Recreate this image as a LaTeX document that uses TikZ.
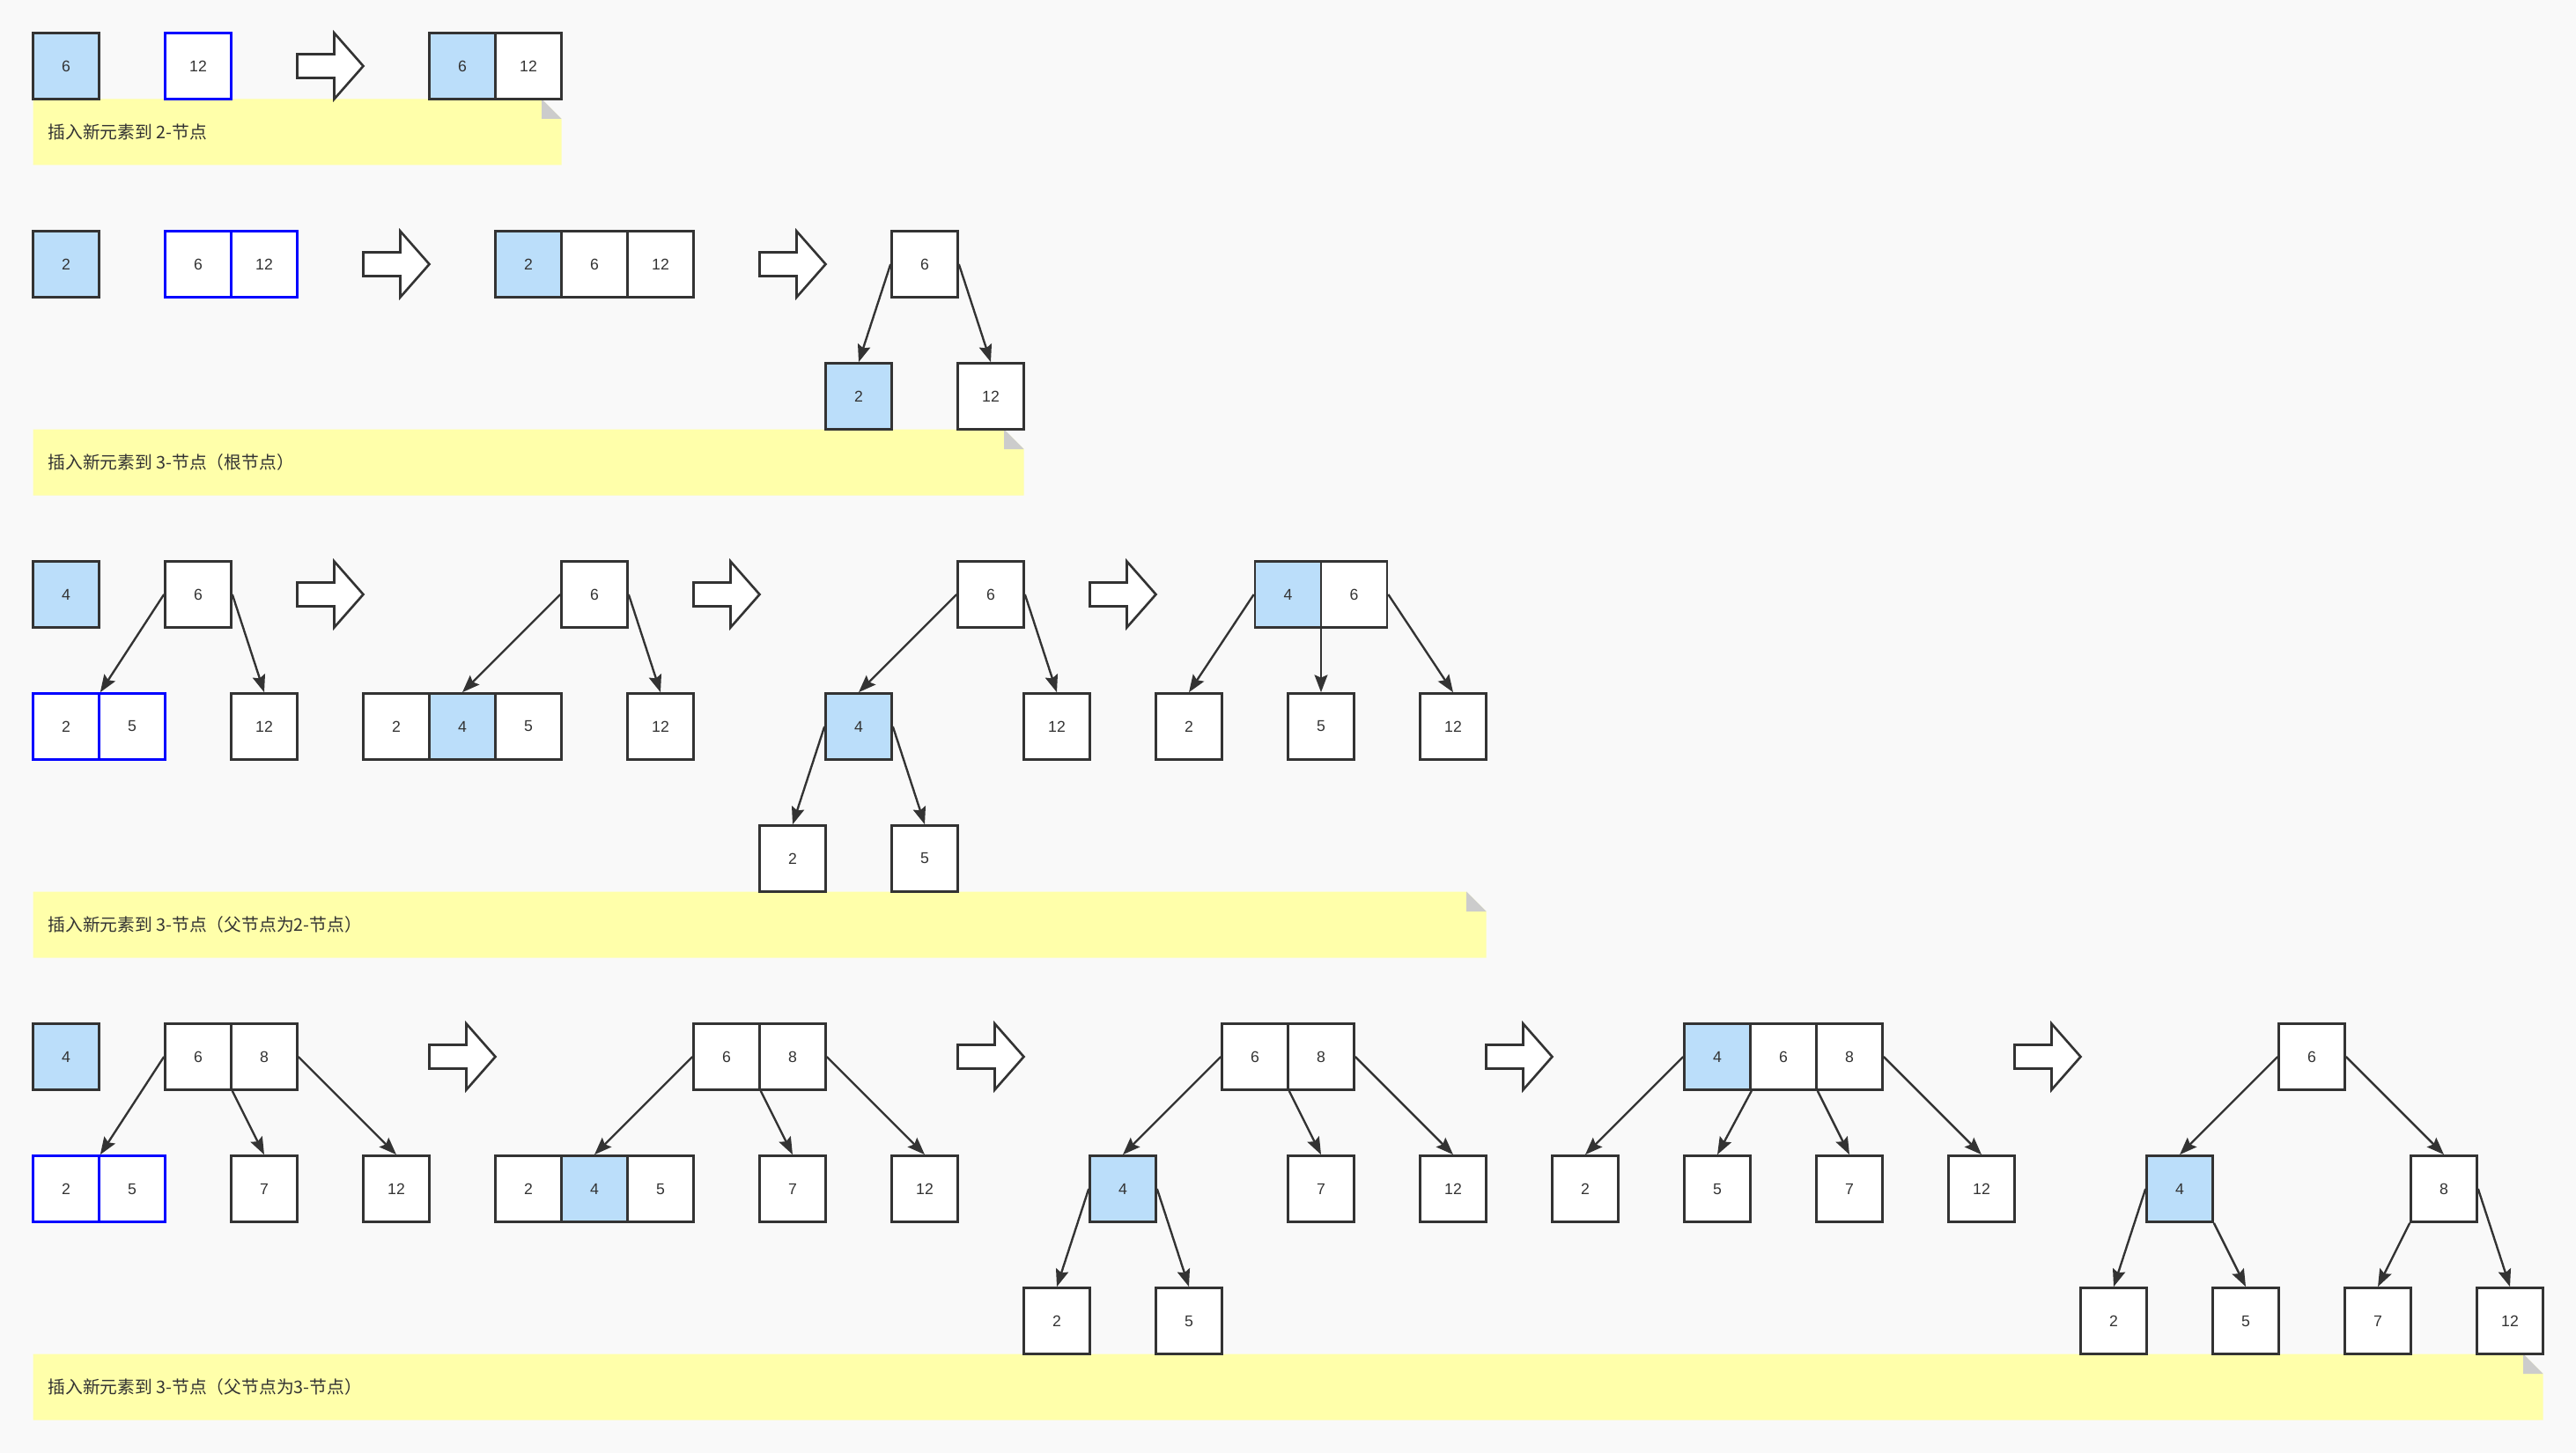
\documentclass[tikz,border=0pt]{standalone}
\usepackage{fontspec}
\setmainfont{Liberation Sans}
\newfontfamily\cjk{Noto Sans CJK SC}
\usetikzlibrary{arrows.meta}
\definecolor{ink}{HTML}{333333}
\definecolor{paper}{HTML}{F9F9F9}
\definecolor{newkey}{HTML}{BBDEFA}
\definecolor{notefill}{HTML}{FFFFAA}
\definecolor{notefold}{HTML}{CCCCCC}

\begin{document}
\begin{tikzpicture}[x=1cm, y=-1cm, auto, font=\fontsize{6.7}{8}\selectfont]
    \tikzstyle{tree key} = [rectangle,draw=ink,fill=white,line width=1pt,inner sep=0pt,minimum size=1cm,text=ink]
    \tikzstyle{tree key new} = [tree key, fill=newkey]
    \tikzstyle{tree key open} = [tree key, draw=blue]
    \tikzstyle{tree edge} = [draw=ink, line width=0.9pt, -{Stealth[length=7.5pt, width=5.6pt, inset=1.2pt]}]
    \tikzstyle{step arrow} = [draw=ink, fill=white, line width=1pt]
    \tikzstyle{note text} = [anchor=west, inner sep=0pt, text=ink, font=\cjk\fontsize{7.5}{9}\selectfont]
\fill[paper] (0,0) rectangle (39,22);
\useasboundingbox (0,0) rectangle (39,22);
% notes
\foreach \top/\right/\name/\caption in {1.5/8.5/n1/插入新元素到 2-节点,
    6.5/15.5/n2/插入新元素到 3-节点（根节点）,
    13.5/22.5/n3/插入新元素到 3-节点（父节点为2-节点）,
    20.5/38.5/n4/插入新元素到 3-节点（父节点为3-节点）} {
  \fill[notefill] (0.5,\top) -- (\right-0.3,\top) -- (\right,\top+0.3) -- (\right,\top+1) -- (0.5,\top+1) -- cycle;
  \fill[notefold] (\right-0.3,\top) -- (\right-0.3,\top+0.3) -- (\right,\top+0.3) -- cycle;
  \node[note text] (\name) at (0.72,\top+0.5) {\caption};
}
% steps
\foreach \x/\y in {5/1, 6/4, 12/4, 5/9, 11/9, 17/9, 7/16, 15/16, 23/16, 31/16}
  \draw[step arrow, shift={(\x,\y)}] (-0.5,-0.18) -- (0.06,-0.18) -- (0.06,-0.5) -- (0.5,0)
      -- (0.06,0.5) -- (0.06,0.18) -- (-0.5,0.18) -- cycle;
% row 1: 2-node
\node[tree key new] (a1) at (1, 1) {6};
\node[tree key open] (a2) at (3, 1) {12};
\node[tree key new] (a3) at (7, 1) {6};
\node[tree key] (a4) at (8, 1) {12};
% row 2: 3-node, root
\node[tree key new] (b1) at (1, 4) {2};
\node[tree key open] (b2) at (3, 4) {6};
\node[tree key open] (b3) at (4, 4) {12};
\node[tree key new] (b4) at (8, 4) {2};
\node[tree key] (b5) at (9, 4) {6};
\node[tree key] (b6) at (10, 4) {12};
\node[tree key] (b7) at (14, 4) {6};
\node[tree key new] (b8) at (13, 6) {2};
\node[tree key] (b9) at (15, 6) {12};
\draw[tree edge] (b7.west) to (b8.north);
\draw[tree edge] (b7.east) to (b9.north);
% row 3: 3-node, parent is 2-node
\node[tree key new] (c1) at (1, 9) {4};
\node[tree key] (c2) at (3, 9) {6};
\node[tree key open] (c3) at (1, 11) {2};
\node[tree key open] (c4) at (2, 11) {5};
\node[tree key] (c5) at (4, 11) {12};
\draw[tree edge] (c2.west) to (c3.north east);
\draw[tree edge] (c2.east) to (c5.north);
\node[tree key] (c6) at (9, 9) {6};
\node[tree key] (c7) at (6, 11) {2};
\node[tree key new] (c8) at (7, 11) {4};
\node[tree key] (c9) at (8, 11) {5};
\node[tree key] (c10) at (10, 11) {12};
\draw[tree edge] (c6.west) to (c8.north);
\draw[tree edge] (c6.east) to (c10.north);
\node[tree key] (c11) at (15, 9) {6};
\node[tree key new] (c12) at (13, 11) {4};
\node[tree key] (c13) at (16, 11) {12};
\node[tree key] (c14) at (12, 13) {2};
\node[tree key] (c15) at (14, 13) {5};
\draw[tree edge] (c11.west) to (c12.north);
\draw[tree edge] (c11.east) to (c13.north);
\draw[tree edge] (c12.west) to (c14.north);
\draw[tree edge] (c12.east) to (c15.north);
\node[tree key new] (c16) at (19.5, 9) {4};
\node[tree key] (c17) at (20.5, 9) {6};
\node[tree key] (c18) at (18, 11) {2};
\node[tree key] (c19) at (20, 11) {5};
\node[tree key] (c20) at (22, 11) {12};
\draw[tree edge] (c16.west) to (c18.north);
\draw[tree edge] (c16.south -| c19.north) to (c19.north);
\draw[tree edge] (c17.east) to (c20.north);
% row 4: 3-node, parent is 3-node
\node[tree key new] (d1) at (1, 16) {4};
\node[tree key] (d2) at (3, 16) {6};
\node[tree key] (d3) at (4, 16) {8};
\node[tree key open] (d4) at (1, 18) {2};
\node[tree key open] (d5) at (2, 18) {5};
\node[tree key] (d6) at (4, 18) {7};
\node[tree key] (d7) at (6, 18) {12};
\draw[tree edge] (d2.west) to (d4.north east);
\draw[tree edge] (d2.south east) to (d6.north);
\draw[tree edge] (d3.east) to (d7.north);
\node[tree key] (d8) at (11, 16) {6};
\node[tree key] (d9) at (12, 16) {8};
\node[tree key] (d10) at (8, 18) {2};
\node[tree key new] (d11) at (9, 18) {4};
\node[tree key] (d12) at (10, 18) {5};
\node[tree key] (d13) at (12, 18) {7};
\node[tree key] (d14) at (14, 18) {12};
\draw[tree edge] (d8.west) to (d11.north);
\draw[tree edge] (d8.south east) to (d13.north);
\draw[tree edge] (d9.east) to (d14.north);
\node[tree key] (d15) at (19, 16) {6};
\node[tree key] (d16) at (20, 16) {8};
\node[tree key new] (d17) at (17, 18) {4};
\node[tree key] (d18) at (20, 18) {7};
\node[tree key] (d19) at (22, 18) {12};
\node[tree key] (d20) at (16, 20) {2};
\node[tree key] (d21) at (18, 20) {5};
\draw[tree edge] (d15.west) to (d17.north);
\draw[tree edge] (d15.south east) to (d18.north);
\draw[tree edge] (d16.east) to (d19.north);
\draw[tree edge] (d17.west) to (d20.north);
\draw[tree edge] (d17.east) to (d21.north);
\node[tree key new] (d22) at (26, 16) {4};
\node[tree key] (d23) at (27, 16) {6};
\node[tree key] (d24) at (28, 16) {8};
\node[tree key] (d25) at (24, 18) {2};
\node[tree key] (d26) at (26, 18) {5};
\node[tree key] (d27) at (28, 18) {7};
\node[tree key] (d28) at (30, 18) {12};
\draw[tree edge] (d22.west) to (d25.north);
\draw[tree edge] (d22.south east) to (d26.north);
\draw[tree edge] (d23.south east) to (d27.north);
\draw[tree edge] (d24.east) to (d28.north);
\node[tree key] (d29) at (35, 16) {6};
\node[tree key new] (d30) at (33, 18) {4};
\node[tree key] (d31) at (37, 18) {8};
\node[tree key] (d32) at (32, 20) {2};
\node[tree key] (d33) at (34, 20) {5};
\node[tree key] (d34) at (36, 20) {7};
\node[tree key] (d35) at (38, 20) {12};
\draw[tree edge] (d29.west) to (d30.north);
\draw[tree edge] (d29.east) to (d31.north);
\draw[tree edge] (d30.west) to (d32.north);
\draw[tree edge] (d30.south east) to (d33.north);
\draw[tree edge] (d31.south west) to (d34.north);
\draw[tree edge] (d31.east) to (d35.north);
\end{tikzpicture}
\end{document}
